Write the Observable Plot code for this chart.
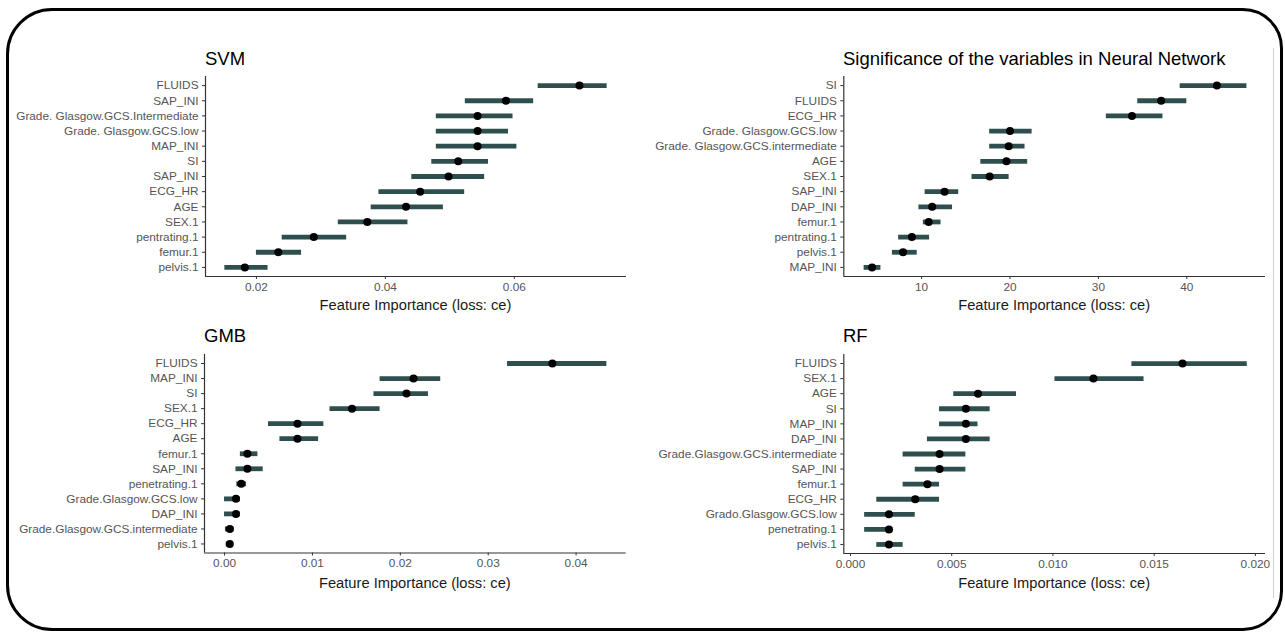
<!DOCTYPE html>
<html><head><meta charset="utf-8">
<script src="https://cdn.jsdelivr.net/npm/d3@7"></script>
<script src="https://cdn.jsdelivr.net/npm/@observablehq/plot@0.6"></script>
<style>
html,body{margin:0;padding:0;background:#fff;}
#root{position:relative;width:1285px;height:633px;overflow:hidden;font-family:"Liberation Sans",Arial,Helvetica,sans-serif;background:#fff;}
.border{position:absolute;left:5.5px;top:7.5px;width:1277px;height:623px;box-sizing:border-box;border:3px solid #000;border-radius:46px 40px 40px 46px;}
.edge{position:absolute;left:1273px;top:48px;width:1px;height:550px;background:#cfcfcf;}
.title{position:absolute;font-size:18.5px;color:#000;line-height:1;white-space:nowrap;}
.xt{position:absolute;font-size:14.7px;color:#1a1a1a;transform:translateX(-50%);white-space:nowrap;line-height:1;}
.panel{position:absolute;}
</style></head><body><div id="root"><div class="border"></div><div class="edge"></div></div>
<script>
// ---------- data ----------
const svmLabels = ["FLUIDS","SAP_INI","Grade. Glasgow.GCS.Intermediate","Grade. Glasgow.GCS.low","MAP_INI","SI","SAP_INI","ECG_HR","AGE","SEX.1","pentrating.1","femur.1","pelvis.1"];
const svmImp = [0.0701,0.0587,0.0543,0.0543,0.0543,0.0513,0.0498,0.0454,0.0432,0.0372,0.0289,0.0234,0.0182];
const svmLo  = [0.0637,0.0524,0.0479,0.0479,0.0479,0.0472,0.0441,0.0390,0.0378,0.0327,0.0240,0.0200,0.0151];
const svmHi  = [0.0744,0.0630,0.0598,0.0591,0.0604,0.0560,0.0554,0.0523,0.0490,0.0435,0.0340,0.0270,0.0218];
const svmTicks = [0.02,0.04,0.06];

const nnLabels = ["SI","FLUIDS","ECG_HR","Grade. Glasgow.GCS.low","Grade. Glasgow.GCS.intermediate","AGE","SEX.1","SAP_INI","DAP_INI","femur.1","pentrating.1","pelvis.1","MAP_INI"];
const nnImp = [43.4,37.1,33.8,20.0,19.85,19.6,17.7,12.6,11.2,10.8,8.9,7.9,4.4];
const nnLo  = [39.25,34.45,30.9,17.7,17.7,16.7,15.7,10.4,9.7,10.2,7.4,6.7,3.5];
const nnHi  = [46.8,40.0,37.3,22.5,21.7,22.0,19.9,14.2,13.5,12.2,10.9,9.5,5.4];
const nnTicks = [10,20,30,40];

const gmbLabels = ["FLUIDS","MAP_INI","SI","SEX.1","ECG_HR","AGE","femur.1","SAP_INI","penetrating.1","Grade.Glasgow.GCS.low","DAP_INI","Grade.Glasgow.GCS.intermediate","pelvis.1"];
const gmbImp = [0.0373,0.0215,0.0207,0.0145,0.0083,0.0083,0.0026,0.0026,0.0019,0.0013,0.0013,0.0006,0.0006];
const gmbLo  = [0.0322,0.0177,0.0170,0.0120,0.0050,0.0063,0.0018,0.0013,0.0014,0.0000,0.0000,0.0001,0.0002];
const gmbHi  = [0.0435,0.0246,0.0232,0.0177,0.0113,0.0107,0.0038,0.0044,0.0025,0.0018,0.0018,0.0011,0.0010];
const gmbTicks = [0,0.01,0.02,0.03,0.04];

const rfLabels = ["FLUIDS","SEX.1","AGE","SI","MAP_INI","DAP_INI","Grade.Glasgow.GCS.intermediate","SAP_INI","femur.1","ECG_HR","Grado.Glasgow.GCS.low","penetrating.1","pelvis.1"];
const rfImp = [0.0164,0.0120,0.0063,0.0057,0.0057,0.0057,0.0044,0.0044,0.0038,0.0032,0.0019,0.0019,0.0019];
const rfLo  = [0.0139,0.0101,0.0051,0.0044,0.0044,0.0038,0.0026,0.0032,0.0026,0.0013,0.0007,0.0007,0.0013];
const rfHi  = [0.0196,0.0145,0.0082,0.0069,0.0063,0.0069,0.0057,0.0057,0.0044,0.0044,0.0032,0.0021,0.0026];
const rfTicks = [0,0.005,0.01,0.015,0.02];

const titles = ["SVM","Significance of the variables in Neural Network","GMB","RF"];
const xTitle = "Feature Importance (loss: ce)";

// ---------- layout ----------
const root = document.getElementById("root");
const FONT = '"Liberation Sans", Arial, Helvetica, sans-serif';

function drawPanel(cfg) {
  const n = cfg.labels.length;
  const rows = cfg.labels.map((l, i) => ({i, imp: cfg.imp[i], lo: cfg.lo[i], hi: cfg.hi[i]}));
  const mt = 10, mb = 34;
  const chart = Plot.plot({
    width: cfg.svgW,
    height: (cfg.y1 - cfg.y0) + mt + mb,
    marginLeft: cfg.x0 - cfg.svgL,
    marginRight: cfg.svgL + cfg.svgW - cfg.x1,
    marginTop: mt,
    marginBottom: mb,
    style: {fontFamily: FONT, fontSize: "11.8px", background: "transparent", overflow: "visible"},
    x: {domain: cfg.xDomain},
    y: {domain: [-0.6, n - 0.4], reverse: true},
    marks: [
      Plot.ruleX([cfg.xDomain[0]], {stroke: "#333", strokeWidth: 1.2}),
      Plot.ruleY([n - 0.4], {stroke: "#333", strokeWidth: 1.2}),
      Plot.axisX({ticks: cfg.ticks, tickFormat: cfg.fmt, tickSize: 3, tickPadding: 3, fill: "#555", stroke: "#333", label: null, fontSize: 11.8}),
      Plot.axisY({ticks: d3.range(n), tickFormat: i => cfg.labels[i], tickSize: 3, tickPadding: 4, fill: "#555", stroke: "#333", label: null, fontSize: 11.8}),
      Plot.ruleY(rows, {y: "i", x1: "lo", x2: "hi", stroke: "#2f4f4f", strokeWidth: 4.8}),
      Plot.dot(rows, {x: "imp", y: "i", r: 4, fill: "#000", stroke: null})
    ]
  });
  const wrap = document.createElement("div");
  wrap.className = "panel";
  wrap.style.left = cfg.svgL + "px";
  wrap.style.top = (cfg.y0 - mt) + "px";
  wrap.appendChild(chart);
  root.appendChild(wrap);

  const t = document.createElement("div");
  t.className = "title";
  t.textContent = cfg.title;
  t.style.left = cfg.titleX + "px";
  t.style.top = cfg.titleY + "px";
  root.appendChild(t);

  const a = document.createElement("div");
  a.className = "xt";
  a.textContent = xTitle;
  a.style.left = ((cfg.x0 + cfg.x1) / 2) + "px";
  a.style.top = cfg.axisTitleY + "px";
  root.appendChild(a);
}

drawPanel({labels: svmLabels, imp: svmImp, lo: svmLo, hi: svmHi, ticks: svmTicks, fmt: d3.format(".2f"),
  xDomain: [0.0121, 0.0774], x0: 205, x1: 626, y0: 76, y1: 276, svgL: 0, svgW: 640,
  title: titles[0], titleX: 205, titleY: 49.5, axisTitleY: 297.5});
drawPanel({labels: nnLabels, imp: nnImp, lo: nnLo, hi: nnHi, ticks: nnTicks, fmt: d3.format("d"),
  xDomain: [1.2, 48.9], x0: 843.3, x1: 1265, y0: 76, y1: 276, svgL: 640, svgW: 640,
  title: titles[1], titleX: 843, titleY: 49.5, axisTitleY: 297.5});
drawPanel({labels: gmbLabels, imp: gmbImp, lo: gmbLo, hi: gmbHi, ticks: gmbTicks, fmt: d3.format(".2f"),
  xDomain: [-0.00228, 0.0457], x0: 204, x1: 625.7, y0: 353.5, y1: 552, svgL: 0, svgW: 640,
  title: titles[2], titleX: 204, titleY: 327, axisTitleY: 575.5});
drawPanel({labels: rfLabels, imp: rfImp, lo: rfLo, hi: rfHi, ticks: rfTicks, fmt: d3.format(".3f"),
  xDomain: [-0.00033, 0.0205], x0: 843.3, x1: 1265, y0: 353.5, y1: 552.5, svgL: 640, svgW: 640,
  title: titles[3], titleX: 843, titleY: 327, axisTitleY: 575.5});
</script>
</body></html>
